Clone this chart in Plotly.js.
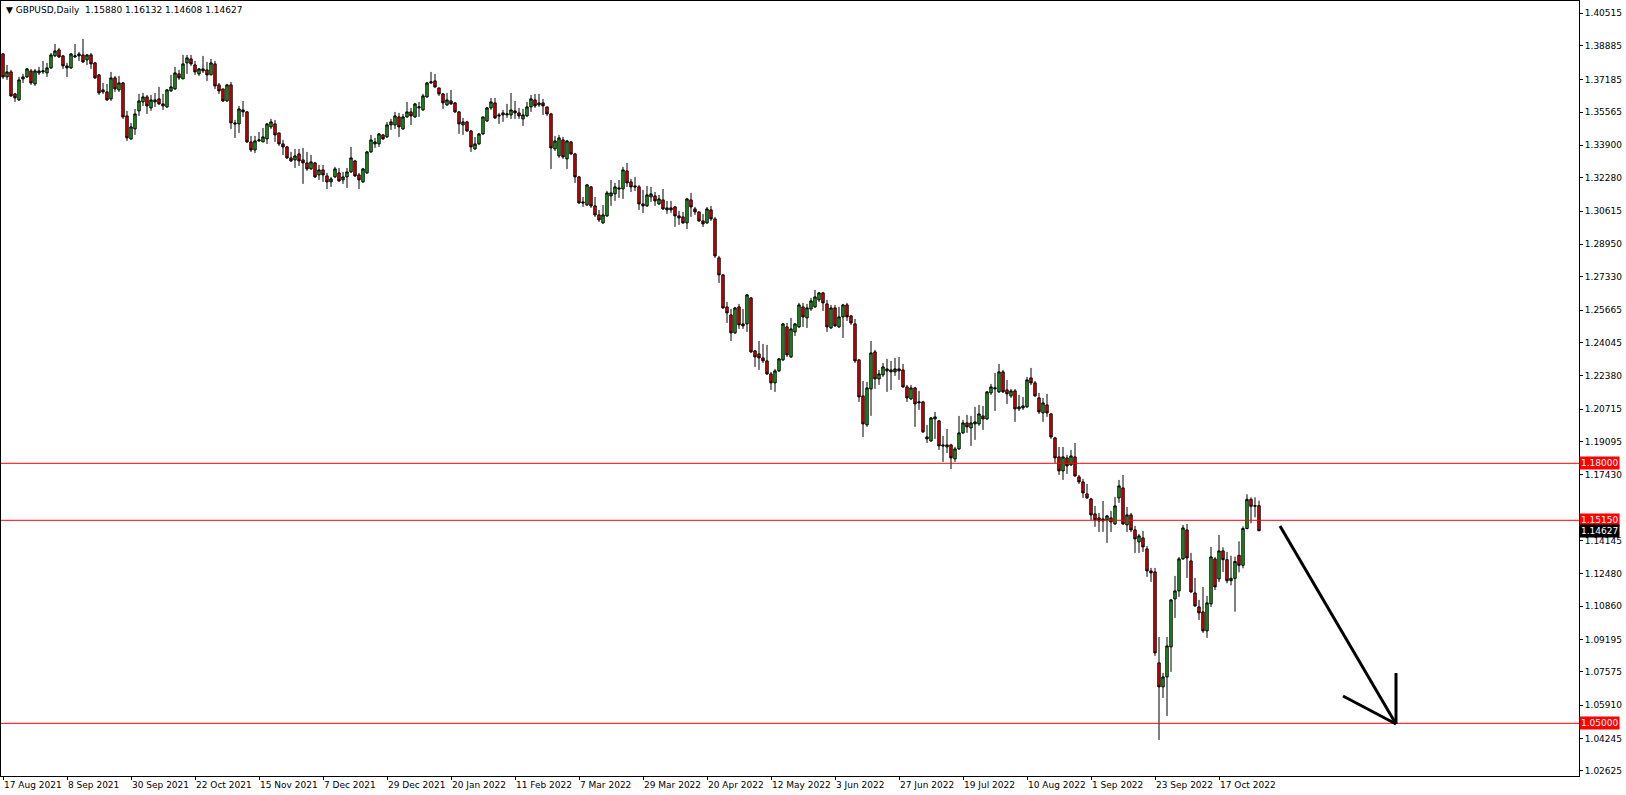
<!DOCTYPE html>
<html>
<head>
<meta charset="utf-8">
<script src="https://cdn.plot.ly/plotly-3.0.1.min.js"></script>
<style>html,body{margin:0;padding:0;background:#fff;}#chart{width:1626px;height:795px;}</style>
</head>
<body>
<div id="chart"></div>
<script>
// GBPUSD daily, 17 Aug 2021 .. 31 Oct 2022
const openP = [1.3847,1.3732,1.3757,1.3647,1.3617,1.3722,1.3732,1.3762,1.3697,1.3752,1.3757,1.3752,1.3777,1.3837,1.3867,1.3837,1.3787,1.3777,1.3832,1.3837,1.3842,1.3817,1.3842,1.3802,1.3742,1.3657,1.3657,1.3622,1.3727,1.3667,1.3702,1.3537,1.3422,1.3472,1.3562,1.3607,1.3632,1.3577,1.3607,1.3622,1.3597,1.3582,1.3662,1.3672,1.3747,1.3722,1.3802,1.3822,1.3792,1.3747,1.3762,1.3767,1.3742,1.3797,1.3692,1.3672,1.3612,1.3692,1.3502,1.3497,1.3567,1.3557,1.3407,1.3367,1.3412,1.3407,1.3422,1.3482,1.3497,1.3452,1.3397,1.3382,1.3327,1.3317,1.3347,1.3317,1.3302,1.3272,1.3302,1.3242,1.3267,1.3237,1.3207,1.3232,1.3252,1.3217,1.3232,1.3257,1.3312,1.3242,1.3207,1.3252,1.3357,1.3397,1.3397,1.3442,1.3432,1.3492,1.3492,1.3532,1.3472,1.3532,1.3557,1.3532,1.3577,1.3567,1.3632,1.3702,1.3712,1.3677,1.3647,1.3592,1.3612,1.3602,1.3557,1.3492,1.3507,1.3462,1.3372,1.3397,1.3447,1.3512,1.3577,1.3602,1.3542,1.3542,1.3542,1.3542,1.3562,1.3552,1.3522,1.3537,1.3582,1.3617,1.3592,1.3602,1.3582,1.3547,1.3372,1.3337,1.3417,1.3322,1.3407,1.3347,1.3232,1.3107,1.3092,1.3182,1.3087,1.3042,1.3002,1.3037,1.3137,1.3147,1.3177,1.3172,1.3262,1.3207,1.3187,1.3182,1.3097,1.3087,1.3132,1.3137,1.3097,1.3117,1.3067,1.3077,1.3082,1.3037,1.3032,1.3002,1.3117,1.3072,1.3057,1.3012,1.3002,1.3067,1.3022,1.2827,1.2742,1.2582,1.2542,1.2452,1.2582,1.2497,1.2497,1.2627,1.2362,1.2347,1.2327,1.2312,1.2247,1.2202,1.2262,1.2317,1.2482,1.2332,1.2457,1.2482,1.2582,1.2527,1.2572,1.2582,1.2617,1.2652,1.2597,1.2477,1.2577,1.2482,1.2532,1.2592,1.2537,1.2497,1.2317,1.2137,1.1992,1.2172,1.2357,1.2222,1.2242,1.2272,1.2257,1.2257,1.2272,1.2267,1.2182,1.2122,1.2177,1.2102,1.2107,1.1932,1.1912,1.2022,1.2012,1.1892,1.1882,1.1892,1.1822,1.1872,1.1952,1.2002,1.1977,1.1997,1.1997,1.2037,1.2022,1.2152,1.2172,1.2157,1.2257,1.2167,1.2137,1.2162,1.2072,1.2077,1.2082,1.2227,1.2202,1.2127,1.2052,1.2092,1.2047,1.1927,1.1832,1.1762,1.1827,1.1792,1.1832,1.1732,1.1707,1.1647,1.1622,1.1547,1.1527,1.1512,1.1517,1.1527,1.1497,1.1627,1.1677,1.1492,1.1542,1.1467,1.1407,1.1427,1.1372,1.1262,1.1257,1.0802,1.0682,1.0732,1.0882,1.1122,1.1162,1.1322,1.1467,1.1312,1.1152,1.1082,1.1057,1.0962,1.1097,1.1322,1.1222,1.1362,1.1318,1.1213,1.1225,1.1340,1.1290,1.1474,1.1620,1.1585,1.1588];
const highP = [1.3852,1.3792,1.3767,1.3652,1.3732,1.3747,1.3777,1.3772,1.3772,1.3782,1.3812,1.3802,1.3852,1.3897,1.3877,1.3842,1.3802,1.3852,1.3897,1.3857,1.3922,1.3847,1.3852,1.3807,1.3747,1.3702,1.3697,1.3757,1.3737,1.3737,1.3707,1.3562,1.3502,1.3572,1.3647,1.3652,1.3642,1.3642,1.3652,1.3682,1.3647,1.3672,1.3742,1.3782,1.3767,1.3842,1.3842,1.3842,1.3812,1.3777,1.3837,1.3807,1.3822,1.3812,1.3702,1.3672,1.3697,1.3707,1.3517,1.3587,1.3612,1.3562,1.3437,1.3437,1.3457,1.3477,1.3502,1.3522,1.3517,1.3452,1.3417,1.3387,1.3357,1.3372,1.3372,1.3377,1.3357,1.3342,1.3307,1.3292,1.3292,1.3252,1.3232,1.3282,1.3277,1.3257,1.3277,1.3382,1.3317,1.3252,1.3277,1.3362,1.3442,1.3427,1.3452,1.3447,1.3507,1.3522,1.3557,1.3552,1.3547,1.3607,1.3577,1.3602,1.3607,1.3647,1.3707,1.3757,1.3747,1.3677,1.3652,1.3652,1.3667,1.3607,1.3562,1.3527,1.3512,1.3467,1.3432,1.3452,1.3532,1.3582,1.3627,1.3627,1.3552,1.3567,1.3597,1.3652,1.3612,1.3577,1.3572,1.3607,1.3642,1.3647,1.3647,1.3622,1.3582,1.3552,1.3437,1.3442,1.3432,1.3417,1.3412,1.3352,1.3237,1.3132,1.3197,1.3187,1.3132,1.3067,1.3092,1.3162,1.3217,1.3202,1.3217,1.3282,1.3302,1.3222,1.3232,1.3192,1.3167,1.3187,1.3182,1.3157,1.3142,1.3172,1.3112,1.3112,1.3087,1.3062,1.3057,1.3127,1.3152,1.3082,1.3057,1.3047,1.3082,1.3087,1.3032,1.2837,1.2747,1.2607,1.2572,1.2582,1.2597,1.2572,1.2647,1.2632,1.2367,1.2412,1.2397,1.2392,1.2257,1.2272,1.2327,1.2502,1.2502,1.2527,1.2502,1.2602,1.2602,1.2597,1.2627,1.2667,1.2657,1.2657,1.2617,1.2592,1.2592,1.2582,1.2597,1.2602,1.2542,1.2522,1.2322,1.2212,1.2207,1.2412,1.2367,1.2267,1.2302,1.2322,1.2312,1.2327,1.2332,1.2297,1.2192,1.2192,1.2182,1.2162,1.2112,1.1992,1.2032,1.2057,1.2017,1.1937,1.1972,1.1897,1.1882,1.2037,1.2017,1.2042,1.2037,1.2082,1.2092,1.2087,1.2162,1.2197,1.2252,1.2297,1.2267,1.2217,1.2172,1.2172,1.2142,1.2132,1.2232,1.2277,1.2212,1.2152,1.2127,1.2147,1.2052,1.1932,1.1882,1.1882,1.1842,1.1867,1.1902,1.1742,1.1722,1.1697,1.1627,1.1587,1.1552,1.1612,1.1542,1.1562,1.1632,1.1717,1.1742,1.1582,1.1552,1.1487,1.1447,1.1462,1.1387,1.1277,1.1277,1.0932,1.0752,1.0932,1.1122,1.1237,1.1332,1.1492,1.1497,1.1352,1.1227,1.1117,1.1182,1.1137,1.1382,1.1332,1.1442,1.1380,1.1357,1.1338,1.1333,1.1410,1.1485,1.1645,1.1630,1.1630,1.16132];
const lowP = [1.3722,1.3717,1.3632,1.3607,1.3612,1.3702,1.3727,1.3692,1.3687,1.3742,1.3747,1.3732,1.3772,1.3832,1.3827,1.3772,1.3732,1.3772,1.3827,1.3812,1.3802,1.3792,1.3772,1.3722,1.3642,1.3647,1.3612,1.3612,1.3657,1.3657,1.3522,1.3412,1.3417,1.3442,1.3537,1.3587,1.3547,1.3562,1.3582,1.3592,1.3567,1.3577,1.3657,1.3667,1.3717,1.3722,1.3747,1.3787,1.3742,1.3737,1.3752,1.3712,1.3742,1.3672,1.3647,1.3607,1.3607,1.3472,1.3427,1.3452,1.3532,1.3402,1.3357,1.3352,1.3407,1.3407,1.3397,1.3472,1.3407,1.3387,1.3342,1.3322,1.3307,1.3277,1.3287,1.3197,1.3262,1.3267,1.3227,1.3217,1.3207,1.3172,1.3182,1.3227,1.3207,1.3197,1.3177,1.3252,1.3232,1.3172,1.3202,1.3247,1.3352,1.3377,1.3382,1.3417,1.3427,1.3467,1.3472,1.3432,1.3467,1.3527,1.3492,1.3527,1.3532,1.3562,1.3627,1.3697,1.3677,1.3637,1.3572,1.3587,1.3592,1.3552,1.3447,1.3442,1.3457,1.3357,1.3367,1.3392,1.3442,1.3507,1.3567,1.3522,1.3497,1.3507,1.3527,1.3522,1.3522,1.3522,1.3487,1.3532,1.3557,1.3577,1.3582,1.3542,1.3537,1.3272,1.3362,1.3327,1.3322,1.3272,1.3342,1.3202,1.3097,1.3082,1.3087,1.3077,1.3032,1.3007,1.2997,1.3032,1.3087,1.3112,1.3127,1.3122,1.3182,1.3157,1.3162,1.3067,1.3052,1.3082,1.3107,1.3087,1.3092,1.3067,1.3047,1.3052,1.2982,1.2992,1.2997,1.2972,1.3032,1.3042,1.3007,1.2982,1.2997,1.3012,1.2827,1.2702,1.2572,1.2502,1.2412,1.2447,1.2472,1.2472,1.2457,1.2352,1.2282,1.2267,1.2302,1.2242,1.2167,1.2157,1.2257,1.2312,1.2332,1.2327,1.2437,1.2477,1.2482,1.2477,1.2562,1.2577,1.2607,1.2562,1.2457,1.2472,1.2482,1.2477,1.2427,1.2512,1.2492,1.2302,1.2107,1.1932,1.1982,1.2037,1.2172,1.2192,1.2232,1.2157,1.2167,1.2237,1.2217,1.2177,1.2107,1.2117,1.1982,1.2067,1.1952,1.1902,1.1907,1.1922,1.1867,1.1807,1.1852,1.1772,1.1807,1.1867,1.1947,1.1952,1.1887,1.1917,1.1987,1.1967,1.2017,1.2142,1.2062,1.2152,1.2152,1.2097,1.2127,1.2007,1.2062,1.2067,1.2077,1.2192,1.2132,1.2047,1.2007,1.2032,1.1922,1.1802,1.1742,1.1717,1.1747,1.1787,1.1732,1.1697,1.1627,1.1622,1.1517,1.1482,1.1457,1.1457,1.1402,1.1457,1.1492,1.1602,1.1492,1.1457,1.1457,1.1352,1.1352,1.1357,1.1232,1.1207,1.0837,1.0417,1.0627,1.0537,1.0757,1.1027,1.1132,1.1317,1.1227,1.1152,1.1082,1.1017,1.0952,1.0927,1.1082,1.1167,1.1207,1.1257,1.1200,1.1190,1.1058,1.1255,1.1275,1.1470,1.1500,1.1530,1.14608];
const closeP = [1.3732,1.3757,1.3637,1.3627,1.3717,1.3732,1.3772,1.3702,1.3762,1.3762,1.3762,1.3777,1.3842,1.3862,1.3832,1.3787,1.3777,1.3847,1.3837,1.3847,1.3807,1.3842,1.3797,1.3727,1.3652,1.3667,1.3617,1.3727,1.3672,1.3702,1.3532,1.3427,1.3482,1.3547,1.3612,1.3632,1.3587,1.3617,1.3617,1.3597,1.3587,1.3667,1.3682,1.3752,1.3727,1.3797,1.3827,1.3797,1.3757,1.3772,1.3772,1.3742,1.3802,1.3687,1.3662,1.3612,1.3692,1.3502,1.3497,1.3572,1.3557,1.3407,1.3367,1.3412,1.3417,1.3432,1.3497,1.3507,1.3442,1.3397,1.3382,1.3327,1.3312,1.3337,1.3312,1.3302,1.3272,1.3307,1.3232,1.3267,1.3242,1.3207,1.3222,1.3272,1.3212,1.3232,1.3257,1.3327,1.3237,1.3217,1.3272,1.3357,1.3417,1.3407,1.3447,1.3422,1.3492,1.3507,1.3537,1.3482,1.3532,1.3557,1.3537,1.3597,1.3582,1.3637,1.3702,1.3707,1.3682,1.3647,1.3602,1.3617,1.3597,1.3557,1.3497,1.3507,1.3462,1.3382,1.3397,1.3447,1.3532,1.3577,1.3607,1.3527,1.3537,1.3552,1.3547,1.3567,1.3552,1.3537,1.3542,1.3582,1.3622,1.3587,1.3602,1.3587,1.3547,1.3377,1.3412,1.3427,1.3332,1.3412,1.3347,1.3232,1.3102,1.3102,1.3192,1.3087,1.3042,1.3017,1.3042,1.3152,1.3152,1.3182,1.3172,1.3267,1.3202,1.3182,1.3182,1.3097,1.3087,1.3142,1.3147,1.3112,1.3122,1.3072,1.3077,1.3067,1.3037,1.3027,1.3002,1.3122,1.3082,1.3057,1.3012,1.2997,1.3072,1.3022,1.2837,1.2742,1.2577,1.2552,1.2452,1.2577,1.2492,1.2487,1.2642,1.2357,1.2332,1.2327,1.2312,1.2247,1.2202,1.2262,1.2322,1.2497,1.2342,1.2472,1.2497,1.2592,1.2532,1.2577,1.2612,1.2632,1.2652,1.2602,1.2482,1.2577,1.2487,1.2532,1.2592,1.2532,1.2502,1.2312,1.2132,1.1997,1.2177,1.2352,1.2222,1.2247,1.2282,1.2262,1.2267,1.2272,1.2262,1.2182,1.2127,1.2177,1.2097,1.2107,1.1957,1.1922,1.2027,1.2032,1.1887,1.1887,1.1892,1.1827,1.1872,1.1952,1.2002,1.1982,1.2002,1.2007,1.2047,1.2022,1.2157,1.2182,1.2177,1.2257,1.2157,1.2147,1.2162,1.2072,1.2082,1.2087,1.2217,1.2202,1.2137,1.2057,1.2102,1.2052,1.1932,1.1827,1.1762,1.1832,1.1787,1.1837,1.1737,1.1707,1.1652,1.1627,1.1542,1.1517,1.1512,1.1522,1.1537,1.1507,1.1587,1.1687,1.1497,1.1542,1.1467,1.1422,1.1437,1.1382,1.1262,1.1252,1.0852,1.0682,1.0732,1.0887,1.1117,1.1162,1.1322,1.1477,1.1327,1.1157,1.1087,1.1052,1.0962,1.1102,1.1332,1.1182,1.1362,1.1318,1.1213,1.1225,1.1309,1.1290,1.1474,1.1620,1.1585,1.1588,1.14627];

const firstDay = '2021-08-17';
const dateTickLabels = ['17 Aug 2021','8 Sep 2021','30 Sep 2021','22 Oct 2021','15 Nov 2021','7 Dec 2021','29 Dec 2021','20 Jan 2022','11 Feb 2022','7 Mar 2022','29 Mar 2022','20 Apr 2022','12 May 2022','3 Jun 2022','27 Jun 2022','19 Jul 2022','10 Aug 2022','1 Sep 2022','23 Sep 2022','17 Oct 2022'];
const priceTicks = [1.40515,1.38885,1.37185,1.35565,1.33900,1.32280,1.30615,1.28950,1.27330,1.25665,1.24045,1.22380,1.20715,1.19095,1.17430,1.14145,1.12480,1.10860,1.09195,1.07575,1.05910,1.04245,1.02625];
const levelLines = [1.18000, 1.15150, 1.05000];
const lastPrice = 1.14627;
const headerText = 'GBPUSD,Daily  1.15880 1.16132 1.14608 1.14627';
// drawn arrow (bar index, price)
const arrowTail = [319.25, 1.14865];
const arrowTip = [348.25, 1.04965];
const arrowWingA = [335.0, 1.06365];
const arrowWingB = [348.25, 1.07515];

// trading-day calendar (Mon-Fri)
const MON = ['Jan','Feb','Mar','Apr','May','Jun','Jul','Aug','Sep','Oct','Nov','Dec'];
const dates = [];
{
  let d = new Date(firstDay + 'T00:00:00Z');
  while (dates.length < openP.length) {
    const wd = d.getUTCDay();
    if (wd !== 0 && wd !== 6) dates.push(d.getUTCDate() + ' ' + MON[d.getUTCMonth()] + ' ' + d.getUTCFullYear());
    d = new Date(d.getTime() + 86400000);
  }
}

const FONT = 'DejaVu Sans, Verdana, sans-serif';
const trace = {
  type: 'candlestick',
  x: dates, open: openP, high: highP, low: lowP, close: closeP,
  increasing: {line: {color: '#000000', width: 1}, fillcolor: '#22b422'},
  decreasing: {line: {color: '#000000', width: 1}, fillcolor: '#ff0000'},
  whiskerwidth: 0,
  hoverinfo: 'skip',
  showlegend: false
};

const shapes = levelLines.map(v => ({
  type: 'line', xref: 'paper', x0: 0, x1: 1, yref: 'y', y0: v, y1: v,
  line: {color: '#ff0000', width: 1}
}));
[[arrowTail, arrowTip], [arrowWingA, arrowTip], [arrowWingB, arrowTip]].forEach(([a, b]) => {
  shapes.push({type: 'line', xref: 'x', yref: 'y', x0: a[0], y0: a[1], x1: b[0], y1: b[1],
    line: {color: '#000000', width: 3}});
});

const annotations = [];
dateTickLabels.forEach(t => annotations.push({
  x: t, xref: 'x', y: 0, yref: 'paper', xanchor: 'left', yanchor: 'top', yshift: -2, xshift: -1,
  text: t, showarrow: false, font: {family: FONT, size: 9, color: '#000'}
}));
levelLines.forEach(v => annotations.push({
  x: 1, xref: 'paper', y: v, yref: 'y', xanchor: 'left', yanchor: 'middle',
  text: v.toFixed(5), showarrow: false, bgcolor: '#ff0000', borderpad: 1,
  font: {family: FONT, size: 9, color: '#ffffff'}
}));
annotations.push({
  x: 1, xref: 'paper', y: lastPrice, yref: 'y', xanchor: 'left', yanchor: 'middle',
  text: lastPrice.toFixed(5), showarrow: false, bgcolor: '#000000', borderpad: 1,
  font: {family: FONT, size: 9, color: '#ffffff'}
});
annotations.push({
  x: 0, xref: 'paper', y: 1, yref: 'paper', xanchor: 'left', yanchor: 'top', xshift: 3, yshift: -2,
  text: '▼ ' + headerText, showarrow: false, font: {family: FONT, size: 9, color: '#000'}
});

const layout = {
  width: 1626, height: 795,
  margin: {l: 1, r: 47, t: 1, b: 19, pad: 0},
  paper_bgcolor: '#ffffff', plot_bgcolor: '#ffffff',
  showlegend: false,
  boxgap: 0.15,
  xaxis: {
    type: 'category', range: [-0.5, 394], rangeslider: {visible: false},
    showgrid: false, zeroline: false, showline: true, mirror: true, linecolor: '#000', linewidth: 1,
    tickmode: 'array', tickvals: dateTickLabels, ticks: 'outside', ticklen: 3, tickcolor: '#000',
    showticklabels: false, fixedrange: true
  },
  yaxis: {
    side: 'right', range: [1.02365, 1.41115],
    showgrid: false, zeroline: false, showline: true, mirror: true, linecolor: '#000', linewidth: 1,
    tickmode: 'array', tickvals: priceTicks, ticktext: priceTicks.map(v => v.toFixed(5)),
    ticks: 'outside', ticklen: 3, tickcolor: '#000',
    tickfont: {family: FONT, size: 9, color: '#000'}, fixedrange: true
  },
  shapes: shapes,
  annotations: annotations,
  font: {family: FONT, size: 9, color: '#000'}
};

Plotly.newPlot('chart', [trace], layout, {staticPlot: true, displayModeBar: false});
</script>
</body>
</html>
